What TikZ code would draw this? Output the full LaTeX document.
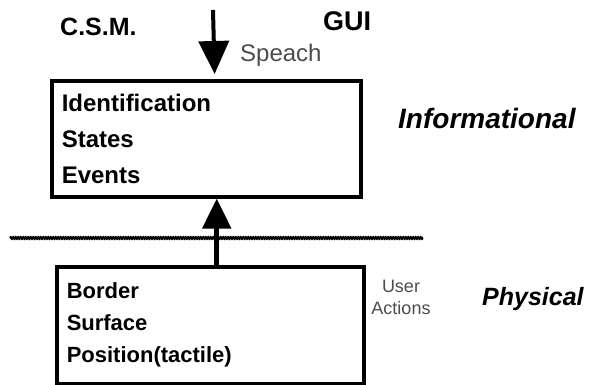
\documentclass[tikz,border=0pt]{standalone}
\usepackage{fontspec}
\setmainfont{Liberation Sans}
\usetikzlibrary{arrows.meta,decorations.pathmorphing}
\def\fs#1#2{\fontsize{#1}{#2}\selectfont}
\tikzset{
  layer/.style={draw,line width=3.5pt,anchor=north west,align=left,
    inner xsep=10pt,inner ysep=0pt},
  head/.style={font=\bfseries\fs{25}{30},anchor=base west,inner sep=0pt},
  level/.style={font=\bfseries\itshape\fs{28}{32},anchor=base west,inner sep=0pt},
  flow/.style={font=\fs{24}{26},text=black!70,anchor=base west,inner sep=0pt},
}

\begin{document}
\begin{tikzpicture}[x=1pt,y=-1pt]
  \useasboundingbox (0,0) rectangle (595,384);
  % the two boxes
  \node[layer,text width=289pt,minimum height=116pt,font=\bfseries\fs{24}{36}]
    (info) at (50,79) {Identification\\States\\Events};
  \node[layer,text width=287pt,minimum height=117pt,font=\bfseries\fs{22}{32}]
    (phys) at (55,265) {Border\\Surface\\Position(tactile)};
  % labels
  \node[head] (csm) at (60,35) {C.S.M.};
  \node[head,font=\bfseries\fs{27}{30}] (gui) at (323,30) {GUI};
  \node[flow] (speach) at (240,61) {Speach};
  \node[level] (linfo) at (398,128) {Informational};
  \node[level,font=\bfseries\itshape\fs{25}{30}] (lphys) at (482,305) {Physical};
  \node[flow,font=\fs{18}{22},anchor=center,align=center] (user) at (401,297) {User\\Actions};
  % border between the levels
  \coordinate (wl) at (10,238);
  \coordinate (wr) at (423,238);
  \draw[line width=2.5pt,decorate,decoration={snake,amplitude=.6pt,segment length=2.5pt}] (wl) -- (wr);
  % arrows
  \coordinate (in) at (213,10);
  \draw[line width=4pt,-{Triangle[length=33pt,width=30pt]},shorten >=5pt]
    (in) -- ([xshift=8.5pt]info.north);
  \draw[line width=5pt,-{Triangle[length=30pt,width=28pt]}]
    ([xshift=6.5pt]phys.north) -- ([xshift=10.5pt]info.south);
\end{tikzpicture}
\end{document}
